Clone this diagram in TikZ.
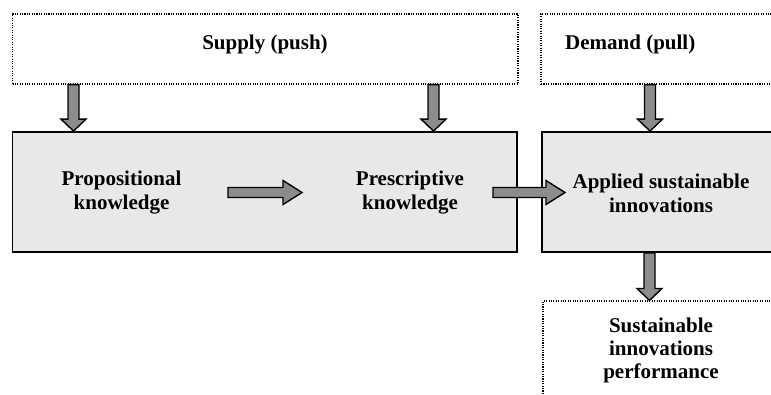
\documentclass[tikz,border=0pt]{standalone}
\usepackage{fontspec}
\setmainfont{Liberation Serif}
\usetikzlibrary{calc}
\definecolor{boxgray}{HTML}{E8E8E8}
\definecolor{arrowgray}{HTML}{8C8C8C}
\tikzset{
  dotbox/.style={draw=black, line width=1.1pt, dash pattern=on 1.1pt off 1.3pt, rectangle, inner sep=0pt},
  graybox/.style={draw=black, line width=1.8pt, fill=boxgray, rectangle, inner sep=0pt},
  lbl/.style={font=\bfseries\fontsize{21}{24}\selectfont, align=center, inner sep=0pt},
  downfat/.style={draw=black, line width=1.4pt, fill=arrowgray, line join=miter,
    to path={let \p1=(\tikztostart), \p2=(\tikztotarget) in
      (\x1-5.5pt,\y1) -- (\x1-5.5pt,\y2+12pt) -- (\x1-12.5pt,\y2+12pt) -- (\x1,\y2)
      -- (\x1+12.5pt,\y2+12pt) -- (\x1+5.5pt,\y2+12pt) -- (\x1+5.5pt,\y1) -- cycle}},
  rightfat/.style={draw=black, line width=1.4pt, fill=arrowgray, line join=miter,
    to path={let \p1=(\tikztostart), \p2=(\tikztotarget) in
      (\x1,\y1-5pt) -- (\x2-19pt,\y1-5pt) -- (\x2-19pt,\y1-12pt) -- (\x2,\y1)
      -- (\x2-19pt,\y1+12pt) -- (\x2-19pt,\y1+5pt) -- (\x1,\y1+5pt) -- cycle}}
}
\begin{document}
\begin{tikzpicture}[x=1pt,y=-1pt]
\useasboundingbox (0,0) rectangle (771,394);
\fill[white] (0,0) rectangle (771,394);
% boxes
\node[dotbox, minimum width=505.5pt, minimum height=70pt] (sup) at (265.25,49) {};
\node[dotbox, minimum width=259pt, minimum height=70pt] (dem) at (670.5,49) {};
\node[graybox, minimum width=504.5pt, minimum height=120pt] (lg) at (264.75,192) {};
\node[graybox, minimum width=258pt, minimum height=120pt] (rg) at (671,192) {};
\node[dotbox, minimum width=257pt, minimum height=119pt] (perfbox) at (671.5,360.5) {};
% texts
\node[lbl] (suptxt) at (265,44) {Supply (push)};
\node[lbl, anchor=west] (demtxt) at (565,44) {Demand (pull)};
\node[lbl] (prop) at (121.5,193) {Propositional\\knowledge};
\node[lbl] (presc) at (410,193) {Prescriptive\\knowledge};
\node[lbl] (appl) at (661,193) {Applied sustainable\\innovations};
\node[lbl, font=\bfseries\fontsize{21}{23}\selectfont] (perf) at (661,350) {Sustainable\\innovations\\performance};
% x positions of down arrows
\coordinate (xa) at (73.5,0);
\coordinate (xb) at (433.5,0);
\coordinate (xc) at (650,0);
\coordinate (xd) at (649.5,0);
\coordinate (a1s) at (sup.south -| xa);
\coordinate (a1e) at (lg.north -| xa);
\coordinate (a2s) at (sup.south -| xb);
\coordinate (a2e) at (lg.north -| xb);
\coordinate (a3s) at (dem.south -| xc);
\coordinate (a3e) at (rg.north -| xc);
\coordinate (a4s) at (rg.south -| xd);
\coordinate (a4e) at (perfbox.north -| xd);
\coordinate (h1s) at (228,192.5);
\coordinate (h1e) at (302,192.5);
\coordinate (h2s) at (493,192.5);
\coordinate (h2e) at (565,192.5);
% arrows
\draw[downfat] (a1s) to (a1e);
\draw[downfat] (a2s) to (a2e);
\draw[downfat] (a3s) to (a3e);
\draw[downfat] (a4s) to (a4e);
\draw[rightfat] (h1s) to (h1e);
\draw[rightfat] (h2s) to (h2e);
\end{tikzpicture}
\end{document}
